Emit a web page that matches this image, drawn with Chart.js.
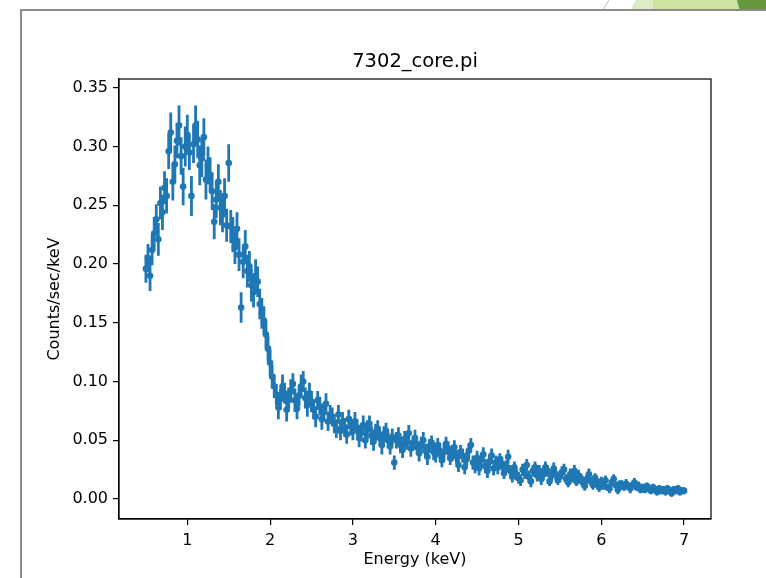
<!DOCTYPE html>
<html>
<head>
<meta charset="utf-8">
<script src="https://cdn.jsdelivr.net/npm/chart.js@4/dist/chart.umd.min.js"></script>
<style>
  html, body { margin:0; padding:0; background:#fff; }
  #wrap { position:relative; width:766px; height:578px; overflow:hidden; }
  #frame { position:absolute; left:20px; top:9px; width:760px; height:600px; border-left:2px solid #8c8c8c; border-top:2px solid #8c8c8c; }
  .deco { position:absolute; top:0; height:9px; }
  #c { position:absolute; left:0; top:0; }
</style>
</head>
<body>
<div id="wrap">
  <div class="deco" style="left:603px;width:6px;background:linear-gradient(to right bottom,transparent 45%,#b5b5b5 50%,transparent 60%)"></div>
  <div class="deco" style="left:631px;width:24px;background:#dcecc4;clip-path:polygon(20% 0,100% 0,100% 100%,0 100%)"></div>
  <div class="deco" style="left:653px;width:86px;background:#cde3a1"></div>
  <div class="deco" style="left:737px;width:29px;background:#66993b;clip-path:polygon(0 0,100% 0,100% 100%,8% 100%)"></div>
  <div id="frame"></div>
  <canvas id="c" width="766" height="578"></canvas>
</div>
<script>
'use strict';
// channel energies (keV)
const energy = [
  0.500,0.525,0.550,0.575,0.600,0.625,0.650,0.675,0.700,0.725,
  0.750,0.775,0.800,0.825,0.850,0.875,0.900,0.925,0.950,0.975,
  1.000,1.025,1.050,1.075,1.100,1.125,1.150,1.175,1.200,1.225,
  1.250,1.275,1.300,1.325,1.350,1.375,1.400,1.425,1.450,1.475,
  1.500,1.525,1.550,1.575,1.600,1.625,1.650,1.675,1.700,1.725,
  1.750,1.775,1.800,1.825,1.850,1.875,1.900,1.925,1.950,1.975,
  2.000,2.025,2.050,2.075,2.100,2.125,2.150,2.175,2.200,2.225,
  2.250,2.275,2.300,2.325,2.350,2.375,2.400,2.425,2.450,2.475,
  2.500,2.525,2.550,2.575,2.600,2.625,2.650,2.675,2.700,2.725,
  2.750,2.775,2.800,2.825,2.850,2.875,2.900,2.925,2.950,2.975,
  3.000,3.025,3.050,3.075,3.100,3.125,3.150,3.175,3.200,3.225,
  3.250,3.275,3.300,3.325,3.350,3.375,3.400,3.425,3.450,3.475,
  3.500,3.525,3.550,3.575,3.600,3.625,3.650,3.675,3.700,3.725,
  3.750,3.775,3.800,3.825,3.850,3.875,3.900,3.925,3.950,3.975,
  4.000,4.025,4.050,4.075,4.100,4.125,4.150,4.175,4.200,4.225,
  4.250,4.275,4.300,4.325,4.350,4.375,4.400,4.425,4.450,4.475,
  4.500,4.525,4.550,4.575,4.600,4.625,4.650,4.675,4.700,4.725,
  4.750,4.775,4.800,4.825,4.850,4.875,4.900,4.925,4.950,4.975,
  5.000,5.025,5.050,5.075,5.100,5.125,5.150,5.175,5.200,5.225,
  5.250,5.275,5.300,5.325,5.350,5.375,5.400,5.425,5.450,5.475,
  5.500,5.525,5.550,5.575,5.600,5.625,5.650,5.675,5.700,5.725,
  5.750,5.775,5.800,5.825,5.850,5.875,5.900,5.925,5.950,5.975,
  6.000,6.025,6.050,6.075,6.100,6.125,6.150,6.175,6.200,6.225,
  6.250,6.275,6.300,6.325,6.350,6.375,6.400,6.425,6.450,6.475,
  6.500,6.525,6.550,6.575,6.600,6.625,6.650,6.675,6.700,6.725,
  6.750,6.775,6.800,6.825,6.850,6.875,6.900,6.925,6.950,6.975,
  7.000
];
// counts/sec/keV
const rate = [
  0.196,0.205,0.190,0.212,0.226,0.238,0.221,0.252,0.244,0.265,
  0.258,0.296,0.312,0.270,0.285,0.305,0.318,0.292,0.266,0.300,
  0.310,0.295,0.258,0.302,0.318,0.306,0.284,0.290,0.308,0.272,
  0.284,0.276,0.262,0.236,0.255,0.270,0.248,0.242,0.258,0.233,
  0.286,0.232,0.225,0.214,0.230,0.208,0.163,0.202,0.215,0.194,
  0.198,0.182,0.176,0.190,0.185,0.166,0.158,0.152,0.140,0.128,
  0.116,0.104,0.096,0.089,0.078,0.085,0.096,0.090,0.076,0.086,
  0.092,0.098,0.084,0.077,0.088,0.096,0.100,0.086,0.080,0.090,
  0.083,0.076,0.070,0.084,0.079,0.068,0.074,0.081,0.066,0.072,
  0.070,0.064,0.060,0.072,0.058,0.066,0.061,0.055,0.068,0.062,
  0.058,0.066,0.061,0.052,0.056,0.063,0.050,0.059,0.064,0.054,
  0.049,0.057,0.060,0.052,0.046,0.055,0.058,0.050,0.045,0.053,
  0.031,0.050,0.054,0.046,0.042,0.051,0.048,0.056,0.043,0.047,
  0.052,0.044,0.039,0.047,0.050,0.041,0.036,0.045,0.048,0.040,
  0.038,0.046,0.041,0.033,0.040,0.047,0.043,0.035,0.039,0.044,
  0.036,0.029,0.040,0.037,0.027,0.034,0.041,0.046,0.031,0.028,
  0.035,0.026,0.033,0.038,0.028,0.024,0.032,0.037,0.026,0.031,
  0.027,0.034,0.030,0.022,0.028,0.036,0.024,0.019,0.027,0.021,
  0.018,0.016,0.025,0.022,0.029,0.019,0.015,0.024,0.027,0.020,
  0.024,0.017,0.021,0.027,0.024,0.015,0.020,0.026,0.021,0.016,
  0.019,0.023,0.025,0.017,0.014,0.021,0.018,0.024,0.015,0.020,
  0.018,0.014,0.011,0.017,0.021,0.015,0.012,0.018,0.014,0.010,
  0.015,0.011,0.016,0.010,0.009,0.014,0.017,0.012,0.008,0.013,
  0.012,0.010,0.013,0.011,0.009,0.012,0.014,0.010,0.011,0.008,
  0.010,0.008,0.011,0.009,0.007,0.010,0.008,0.006,0.009,0.007,
  0.008,0.006,0.009,0.007,0.005,0.008,0.007,0.009,0.006,0.007,
  0.007
];
// 1-sigma errors
const rateErr = [
  0.012,0.012,0.013,0.013,0.014,0.013,0.014,0.014,0.015,0.014,
  0.015,0.015,0.017,0.016,0.016,0.015,0.017,0.016,0.016,0.017,
  0.017,0.015,0.017,0.016,0.017,0.016,0.017,0.016,0.016,0.017,
  0.016,0.015,0.016,0.015,0.016,0.015,0.015,0.015,0.015,0.014,
  0.016,0.014,0.015,0.014,0.014,0.014,0.013,0.014,0.014,0.014,
  0.013,0.014,0.013,0.014,0.013,0.013,0.013,0.012,0.012,0.011,
  0.011,0.010,0.010,0.009,0.010,0.009,0.010,0.009,0.010,0.009,
  0.010,0.009,0.010,0.009,0.009,0.010,0.009,0.009,0.010,0.009,
  0.009,0.008,0.009,0.008,0.008,0.009,0.008,0.009,0.008,0.008,
  0.008,0.008,0.008,0.008,0.008,0.008,0.008,0.008,0.008,0.008,
  0.008,0.008,0.007,0.008,0.007,0.008,0.007,0.008,0.007,0.008,
  0.008,0.007,0.007,0.007,0.008,0.007,0.007,0.007,0.007,0.007,
  0.006,0.007,0.007,0.007,0.007,0.007,0.006,0.007,0.007,0.006,
  0.007,0.006,0.007,0.006,0.007,0.006,0.007,0.006,0.006,0.007,
  0.007,0.006,0.007,0.006,0.007,0.006,0.006,0.006,0.007,0.006,
  0.006,0.006,0.006,0.006,0.006,0.006,0.006,0.006,0.006,0.006,
  0.006,0.006,0.006,0.006,0.006,0.006,0.006,0.006,0.006,0.006,
  0.006,0.005,0.006,0.005,0.005,0.006,0.005,0.005,0.005,0.005,
  0.005,0.005,0.005,0.005,0.005,0.005,0.005,0.005,0.005,0.005,
  0.005,0.005,0.005,0.005,0.005,0.004,0.005,0.005,0.005,0.004,
  0.005,0.005,0.005,0.004,0.004,0.005,0.004,0.005,0.004,0.005,
  0.004,0.004,0.004,0.004,0.005,0.004,0.004,0.004,0.004,0.004,
  0.004,0.003,0.004,0.003,0.004,0.003,0.004,0.003,0.004,0.003,
  0.004,0.003,0.004,0.003,0.004,0.003,0.004,0.003,0.004,0.003,
  0.003,0.003,0.003,0.003,0.003,0.003,0.003,0.003,0.003,0.003,
  0.003,0.003,0.003,0.003,0.003,0.003,0.003,0.003,0.003,0.003,
  0.003
];
const xTicks = [1, 2, 3, 4, 5, 6, 7];
const yTicks = [0, 0.05, 0.10, 0.15, 0.20, 0.25, 0.30, 0.35];

const BLUE = '#1f77b4';
const FONT = 'DejaVu Sans';

// vertical error bars, drawn under the markers
const errorBars = {
  id: 'errorBars',
  beforeDatasetsDraw(chart) {
    const { ctx, chartArea: a, scales: { x, y } } = chart;
    ctx.save();
    ctx.beginPath(); ctx.rect(a.left, a.top, a.right - a.left, a.bottom - a.top); ctx.clip();
    ctx.strokeStyle = BLUE; ctx.lineWidth = 2.8;
    ctx.beginPath();
    energy.forEach((e, i) => {
      const px = x.getPixelForValue(e);
      ctx.moveTo(px, y.getPixelForValue(rate[i] - rateErr[i]));
      ctx.lineTo(px, y.getPixelForValue(rate[i] + rateErr[i]));
    });
    ctx.stroke();
    ctx.restore();
  }
};
// full box spine like matplotlib
const spines = {
  id: 'spines',
  afterDraw(chart) {
    const { ctx, chartArea: a } = chart;
    ctx.save();
    ctx.strokeStyle = '#000'; ctx.lineWidth = 1.2;
    ctx.strokeRect(a.left, a.top, a.right - a.left, a.bottom - a.top);
    ctx.restore();
  }
};

const tickFont = { family: FONT, size: 16 };

new Chart(document.getElementById('c'), {
  type: 'scatter',
  data: { datasets: [{
    data: energy.map((e, i) => ({ x: e, y: rate[i] })),
    backgroundColor: BLUE, borderColor: BLUE, borderWidth: 0,
    pointRadius: 3.3, pointHoverRadius: 3.3
  }] },
  options: {
    responsive: false, animation: false, devicePixelRatio: 1,
    layout: { padding: { left: 0, right: 55, top: 0, bottom: 0 } },
    plugins: {
      legend: { display: false }, tooltip: { enabled: false },
      title: { display: true, text: '7302_core.pi', fullSize: false, color: '#000',
        font: { family: FONT, size: 19.5, weight: 'normal' }, padding: { top: 50, bottom: 5.6 } }
    },
    scales: {
      x: {
        type: 'linear', min: 0.175, max: 7.325,
        afterBuildTicks: s => { s.ticks = xTicks.map(v => ({ value: v })); },
        afterFit: s => { s.height = 59; },
        ticks: { color: '#000', font: tickFont, padding: 6, maxRotation: 0, callback: v => String(v) },
        grid: { display: true, drawOnChartArea: false, drawTicks: true, tickLength: 6, color: '#000', lineWidth: 1.2 },
        border: { display: true, color: '#000', width: 1.2 },
        title: { display: true, text: 'Energy (keV)', color: '#000', font: tickFont, padding: { top: 4, bottom: 8.4 } }
      },
      y: {
        type: 'linear', min: -0.017, max: 0.3575,
        afterBuildTicks: s => { s.ticks = yTicks.map(v => ({ value: v })); },
        afterFit: s => { s.width = 119; },
        ticks: { color: '#000', font: tickFont, padding: 5, callback: v => v.toFixed(2) },
        grid: { display: true, drawOnChartArea: false, drawTicks: true, tickLength: 6, color: '#000', lineWidth: 1.2 },
        border: { display: true, color: '#000', width: 1.2 },
        title: { display: true, text: 'Counts/sec/keV', color: '#000', font: tickFont, padding: { top: 45.4, bottom: 0 } }
      }
    }
  },
  plugins: [errorBars, spines]
});
</script>
</body>
</html>
